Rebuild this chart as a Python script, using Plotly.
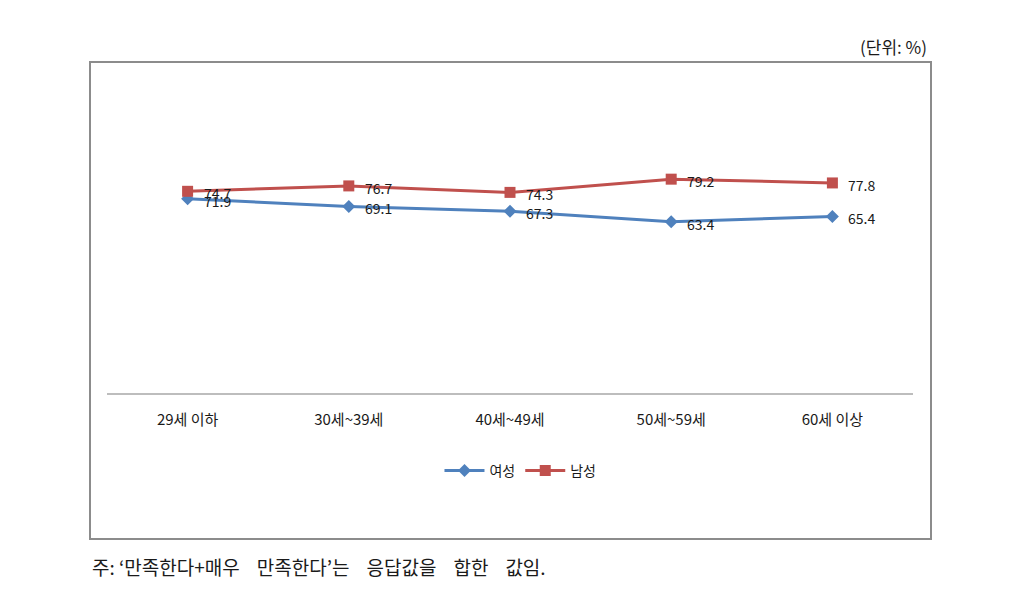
import plotly.graph_objects as go

categories = ["29세 이하", "30세~39세", "40세~49세", "50세~59세", "60세 이상"]
female = [71.9, 69.1, 67.3, 63.4, 65.4]
male = [74.7, 76.7, 74.3, 79.2, 77.8]
series_names = ["여성", "남성"]

W, H = 1028, 593
L, R, T, B = 107, 913, 123, 393  # plot area pixels

def px(x):
    return (x - L) / (R - L)

def py(y):
    return (B - y) / (B - T)

FONT = "Noto Sans CJK KR"
TXT = "#1a1a1a"

fig = go.Figure()
for vals, name, color, sym, size in [
    (female, series_names[0], "#4f81bd", "diamond", 10),
    (male, series_names[1], "#c0504d", "square", 11),
]:
    fig.add_trace(go.Scatter(
        x=categories, y=vals, name=name, mode="lines+markers",
        line=dict(color=color, width=3),
        marker=dict(symbol=sym, size=size, color=color),
    ))
    for c, v in zip(categories, vals):
        fig.add_annotation(x=c, y=v, text=f"{v:.1f}", showarrow=False,
                           xanchor="left", yanchor="middle", xshift=14, yshift=-2,
                           font=dict(family=FONT, size=14, color=TXT))

fig.update_layout(
    width=W, height=H,
    margin=dict(l=L, r=W - R, t=T, b=H - B, pad=0),
    paper_bgcolor="white", plot_bgcolor="white",
    font=dict(family=FONT, size=14, color=TXT),
    showlegend=True,
    legend=dict(orientation="h", x=0.513, xanchor="center", y=py(471), yanchor="middle",
                font=dict(family=FONT, size=14, color=TXT), itemwidth=40,
                tracegroupgap=0, bgcolor="rgba(0,0,0,0)"),
    xaxis=dict(type="category", range=[-0.5, 4.5], showgrid=False, zeroline=False,
               showline=True, linecolor="#bdbdbd", linewidth=2, ticks="",
               tickfont=dict(family=FONT, size=15, color=TXT), ticklabelstandoff=12,
               fixedrange=True),
    yaxis=dict(range=[0, 100], visible=False, fixedrange=True),
)

fig.add_shape(type="rect", xref="paper", yref="paper",
              x0=px(90), x1=px(931), y0=py(539), y1=py(62),
              line=dict(color="#8c8c8c", width=2), fillcolor="rgba(0,0,0,0)", layer="below")

fig.add_annotation(text="(단위: %)", xref="paper", yref="paper", x=px(929), y=py(46),
                   xanchor="right", yanchor="middle", showarrow=False,
                   font=dict(family=FONT, size=17, color=TXT))
NB = "\u00a0"
note = f"주:{NB}‘만족한다+매우{NB*4}만족한다’는{NB*4}응답값을{NB*4}합한{NB*4}값임."
fig.add_annotation(text=note, xref="paper", yref="paper",
                   x=px(90), y=py(566), xanchor="left", yanchor="middle", showarrow=False,
                   font=dict(family=FONT, size=19, color=TXT))

fig.write_html("out.html")
